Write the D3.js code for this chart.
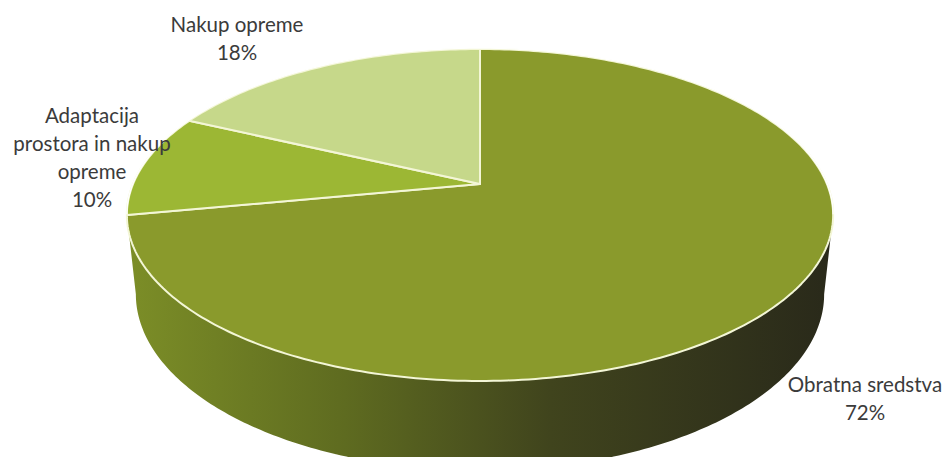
<!DOCTYPE html>
<html><head><meta charset="utf-8">
<script src="https://cdn.jsdelivr.net/npm/d3@7"></script>
<style>html,body{margin:0;padding:0;background:#fff;}svg{display:block;}</style>
</head><body>
<script>
const categories = ["Obratna sredstva", "Adaptacija prostora in nakup opreme", "Nakup opreme"];
const values = [72, 10, 18];
const percentLabels = ["72%", "10%", "18%"];
const labelLines = [["Obratna sredstva", "72%"], ["Adaptacija", "prostora in nakup", "opreme", "10%"], ["Nakup opreme", "18%"]];
const topColors = ["#8a9a2c", "#9cb734", "#c6d88a"];

const W = 949, H = 457;
const svg = d3.select("body").append("svg").attr("width", W).attr("height", H);

// perspective projection of a tilted disc
const cx = 480, cy = 184;
const elev = 27.5 * Math.PI / 180, s = Math.sin(elev), c = Math.cos(elev);
const D = 5.357 * c;
const f = 135 * (D + c) / s;
const h = 0.26;
function proj(phi, z) {
  const X = Math.sin(phi), Y = Math.cos(phi), Z = z;
  const w = D + Y * c - Z * s;
  return [cx + f * X / w, cy - f * (Y * s + Z * c) / w];
}

const pie = d3.pie().sort(null).value(d => d)(values);

const defs = svg.append("defs");
const g1 = defs.append("linearGradient").attr("id", "side").attr("x1", "0").attr("x2", "1").attr("y1", "0").attr("y2", "0");
g1.append("stop").attr("offset", "0").attr("stop-color", "#7c8e27");
g1.append("stop").attr("offset", "0.3").attr("stop-color", "#5f6c20");
g1.append("stop").attr("offset", "0.6").attr("stop-color", "#40441d");
g1.append("stop").attr("offset", "1").attr("stop-color", "#29291a");

// side wall
const phiT = Math.acos(-c / D), phiB = Math.acos(-c / (D + h * s));
const sidePts = [];
const N = 200;
for (let i = 0; i <= N; i++) { const p = phiT + (2 * Math.PI - 2 * phiT) * i / N; sidePts.push(proj(p, 0)); }
for (let i = N; i >= 0; i--) { const p = phiB + (2 * Math.PI - 2 * phiB) * i / N; sidePts.push(proj(p, -h)); }
svg.append("path").attr("d", d3.line()(sidePts) + "Z").attr("fill", "url(#side)");

// top slices
svg.selectAll("path.slice").data(pie).enter().append("path")
  .attr("class", "slice")
  .attr("fill", (d, i) => topColors[i])
  .attr("stroke", "#f3f6d6").attr("stroke-width", 2).attr("stroke-linejoin", "round")
  .attr("d", d => {
    const pts = [[cx, cy]];
    const n = Math.max(4, Math.ceil((d.endAngle - d.startAngle) * 60));
    for (let i = 0; i <= n; i++) pts.push(proj(d.startAngle + (d.endAngle - d.startAngle) * i / n, 0));
    return d3.line()(pts) + "Z";
  });

// soften the back edge stroke (no visible rim at the back)
const backPts = [];
for (let i = 0; i <= 100; i++) { const p = -phiT + 2 * phiT * i / 100; backPts.push(proj(p, 0)); }
svg.append("path").attr("d", d3.line()(backPts)).attr("fill", "none").attr("stroke", "#fff").attr("stroke-width", 1.2)
  .attr("transform", "translate(0,-0.8)");

// labels
const labelPos = [[865, 392], [92, 123], [237, 32]];
const lh = 28;
labelLines.forEach((lines, i) => {
  const t = svg.append("text").attr("text-anchor", "middle")
    .attr("font-family", "Lato, 'Open Sans', sans-serif").attr("font-size", 20.5).attr("fill", "#3b3b3b");
  lines.forEach((ln, j) => t.append("tspan").attr("x", labelPos[i][0]).attr("y", labelPos[i][1] + j * lh).text(ln));
});
</script>
</body></html>
